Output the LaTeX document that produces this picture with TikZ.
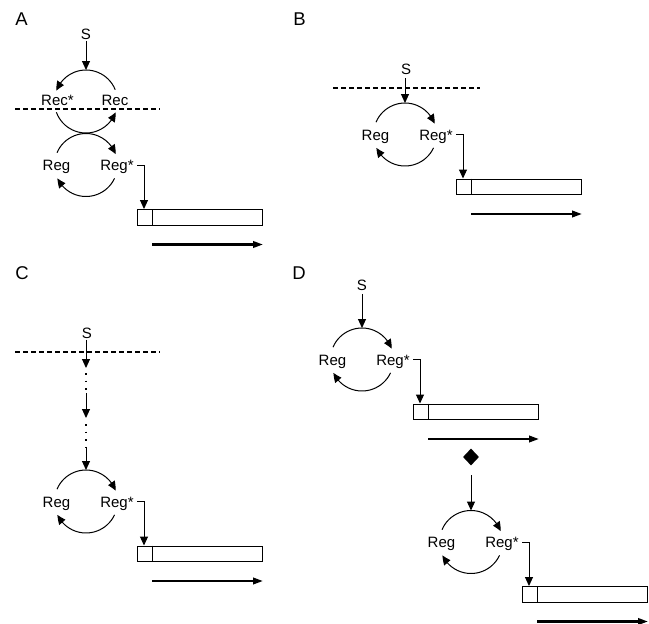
\documentclass[tikz,border=0pt]{standalone}
\usepackage{fontspec}
\setmainfont{Liberation Sans}
\usetikzlibrary{arrows.meta,calc,shapes.geometric,bending}
\tikzset{
  lbl/.style={inner sep=0pt,anchor=base,font=\fontsize{15}{17}\selectfont},
  panel/.style={inner sep=0pt,font=\fontsize{18.5}{20}\selectfont},
  cyc/.style={line width=1pt,-{Triangle[length=9pt,width=8pt,bend]}},
  conn/.style={line width=1pt,-{Triangle[length=9pt,width=8pt]}},
  plain/.style={line width=1pt},
  dotline/.style={line width=1.6pt,dash pattern=on 1.6pt off 6pt},
  membrane/.style={line width=2.6pt,dash pattern=on 5pt off 3pt},
  gene/.style={draw,line width=1pt,minimum width=125pt,minimum height=15.5pt,inner sep=0pt,anchor=north west},
  tx/.style={line width=2.2pt,-{Triangle[length=10pt,width=6.5pt]}},
}
% #1 name, #2 cx, #3 cy  : Reg cycle with target gene
\newcommand\regunit[3]{%
  \coordinate (#1c) at (#2,#3);
  \coordinate (#1t) at ($(#1c)+(0,-31.5)$);
  \draw[cyc] (#1c) ++(203:31.5) arc[start angle=203,end angle=340,radius=31.5];
  \draw[cyc] (#1c) ++(25:31.5) arc[start angle=25,end angle=155,radius=31.5];
  \node[lbl] (#1L) at ($(#1c)+(-29.5,5.5)$) {Reg};
  \node[lbl] (#1R) at ($(#1c)+(31,5.5)$) {Reg*};
  \coordinate (#1k) at ($(#1c)+(51,0)$);
  \node[gene] (#1g) at ($(#1c)+(51,44)$) {};
  \draw[plain] ($(#1g.north west)+(15,0)$) -- ($(#1g.south west)+(15,0)$);
  \draw[conn] (#1k) -| ($(#1g.north west)+(7,0)$);
  \draw[tx] ($(#1g.south west)+(15,19)$) -- ($(#1g.south east)+(0,19)$);
}
\begin{document}
\begin{tikzpicture}[x=1pt,y=-1pt]
\useasboundingbox (0,0) rectangle (649,624);
% panel letters
\node[panel] (pA) at (21.5,19) {A};
\node[panel] (pB) at (299.5,19) {B};
\node[panel] (pC) at (22,273.5) {C};
\node[panel] (pD) at (299,273.5) {D};

% ---------- A ----------
\node[lbl] (aS) at (86,39) {S};
\coordinate (ec) at (86,101.5);
\coordinate (et) at (86,70);
\draw[cyc] (ec) ++(338:31.5) arc[start angle=338,end angle=200,radius=31.5];
\draw[cyc] (ec) ++(160:31.5) arc[start angle=160,end angle=20,radius=31.5];
\node[lbl] (aRs) at ($(ec)+(-28.5,3.5)$) {Rec*};
\node[lbl] (aR) at ($(ec)+(29,3.5)$) {Rec};
\draw[conn] (aS.south) ++(0,1.5) -- (et);
\draw[membrane] (15,109) -- (160,109);
\regunit{a}{86}{165}

% ---------- B ----------
\node[lbl] (bS) at (406,74) {S};
\draw[membrane] (333,88) -- (480,88);
\regunit{b}{405}{134.5}
\draw[conn] (bS.south -| bt) ++(0,4) -- (bt);

% ---------- C ----------
\node[lbl] (cS) at (87,338.5) {S};
\draw[membrane] (15,352) -- (160,352);
\regunit{c}{86}{501.5}
\coordinate (c1) at (86,368);
\coordinate (c2) at (86,393);
\coordinate (c3) at (86,418);
\coordinate (c4) at (86,448);
\draw[conn] (cS.south -| c1) ++(0,1) -- (c1);
\draw[dotline] (c1) ++(0,5) -- (c2);
\draw[conn] (c2) -- (c3);
\draw[dotline] (c3) ++(0,6) -- (c4);
\draw[conn] (c4) -- (ct);

% ---------- D ----------
\node[lbl] (dS) at (362,290.5) {S};
\regunit{d}{362}{359.5}
\draw[conn] (dS.south) ++(0,3) -- (dt);
\node[diamond,fill=black,inner sep=0pt,minimum width=16pt,minimum height=17pt] (dm) at (471,457) {};
\regunit{e}{471}{542}
\draw[conn] (471,475) -- (et);
\end{tikzpicture}
\end{document}
